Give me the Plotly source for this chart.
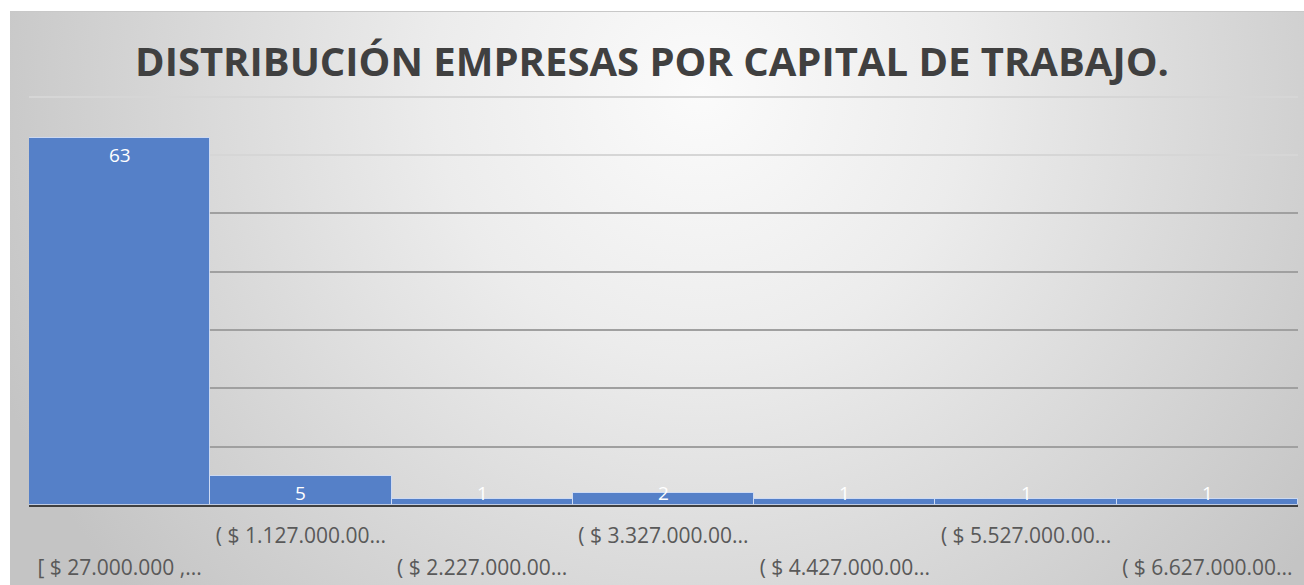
import plotly.graph_objects as go

categories = ["[ $ 27.000.000 ,...", "( $ 1.127.000.00...", "( $ 2.227.000.00...",
              "( $ 3.327.000.00...", "( $ 4.427.000.00...", "( $ 5.527.000.00...",
              "( $ 6.627.000.00..."]
counts = [63, 5, 1, 2, 1, 1, 1]
title_text = "DISTRIBUCIÓN EMPRESAS POR CAPITAL DE TRABAJO."

W, H = 1304, 585
ML, MR, MT, MB = 29, 6, 91, 80
plot_w = W - ML - MR
plot_h = H - MT - MB
YMAX = 71

idx = list(range(len(categories)))
top_row = [i for i in idx if i % 2 == 1]
bottom_row = [i for i in idx if i % 2 == 0]

bg_svg = (
    "data:image/svg+xml;utf8,"
    "<svg xmlns='http://www.w3.org/2000/svg' width='1294' height='574' viewBox='0 0 1294 574' preserveAspectRatio='none'>"
    "<defs><radialGradient id='g' gradientUnits='userSpaceOnUse' cx='690' cy='80' r='760'>"
    "<stop offset='0' stop-color='%23fbfbfb'/>"
    "<stop offset='0.35' stop-color='%23ececec'/>"
    "<stop offset='1' stop-color='%23c4c4c4'/>"
    "</radialGradient></defs>"
    "<rect x='0' y='0' width='1294' height='574' fill='url(%23g)'/>"
    "<line x1='0' y1='0.5' x2='1294' y2='0.5' stroke='%23c8c8c8' stroke-width='1'/>"
    "</svg>"
)

fig = go.Figure()
fig.add_trace(go.Bar(
    x=idx, y=counts,
    marker=dict(color="#5580C8", line=dict(color="rgba(220,230,250,0.8)", width=1)),
    hoverinfo="skip", showlegend=False,
))
# invisible trace to carry secondary axes (second label row + light gridlines)
fig.add_trace(go.Scatter(x=[0], y=[0], xaxis="x2", yaxis="y2", mode="markers",
                         marker=dict(opacity=0), showlegend=False, hoverinfo="skip"))

for i, v in enumerate(counts):
    fig.add_annotation(x=i, y=max(v, 5), yanchor="middle", yshift=-17, text=str(v),
                       showarrow=False, font=dict(family="Open Sans", size=19, color="white"))

fig.add_layout_image(dict(
    source=bg_svg, xref="paper", yref="paper",
    x=(10 - ML) / plot_w, y=(H - MB - 11) / plot_h,
    sizex=(W - 10) / plot_w, sizey=(H - 11) / plot_h,
    xanchor="left", yanchor="top", sizing="stretch", layer="below"))

tickfont = dict(family="Open Sans", size=21, color="#595959")
fig.update_layout(
    width=W, height=H,
    margin=dict(l=ML, r=MR, t=MT, b=MB, autoexpand=False),
    paper_bgcolor="white", plot_bgcolor="rgba(0,0,0,0)",
    bargap=0,
    title=dict(text="<b>" + title_text + "</b>", x=0.5, xanchor="center",
               y=1 - 62 / H, yanchor="middle",
               font=dict(family="Open Sans", size=40, color="#404040")),
    xaxis=dict(tickvals=top_row, ticktext=[categories[i] for i in top_row],
               range=[-0.5, len(categories) - 0.5], showgrid=False, automargin=False,
               showline=False, zeroline=False, ticks="", ticklabelstandoff=16,
               tickfont=tickfont),
    xaxis2=dict(tickvals=bottom_row, ticktext=[categories[i] for i in bottom_row],
                range=[-0.5, len(categories) - 0.5], showgrid=False, overlaying="x",
                side="bottom", showline=False, zeroline=False, ticks="", automargin=False,
                ticklabelstandoff=48, tickfont=tickfont),
    yaxis=dict(range=[0, YMAX], tickvals=[10, 20, 30, 40, 50], showticklabels=False,
               gridcolor="#a0a0a0", gridwidth=1.5, zeroline=True, automargin=False,
               zerolinecolor="#404040", zerolinewidth=3, showline=False),
    yaxis2=dict(range=[0, YMAX], tickvals=[60, 70], showticklabels=False, overlaying="y",
                gridcolor="#d6d6d6", gridwidth=1.5, zeroline=False, showline=False,
                automargin=False),
)

fig.write_html("out.html", config={"displayModeBar": False},
               post_script="document.body.style.margin='0';")
